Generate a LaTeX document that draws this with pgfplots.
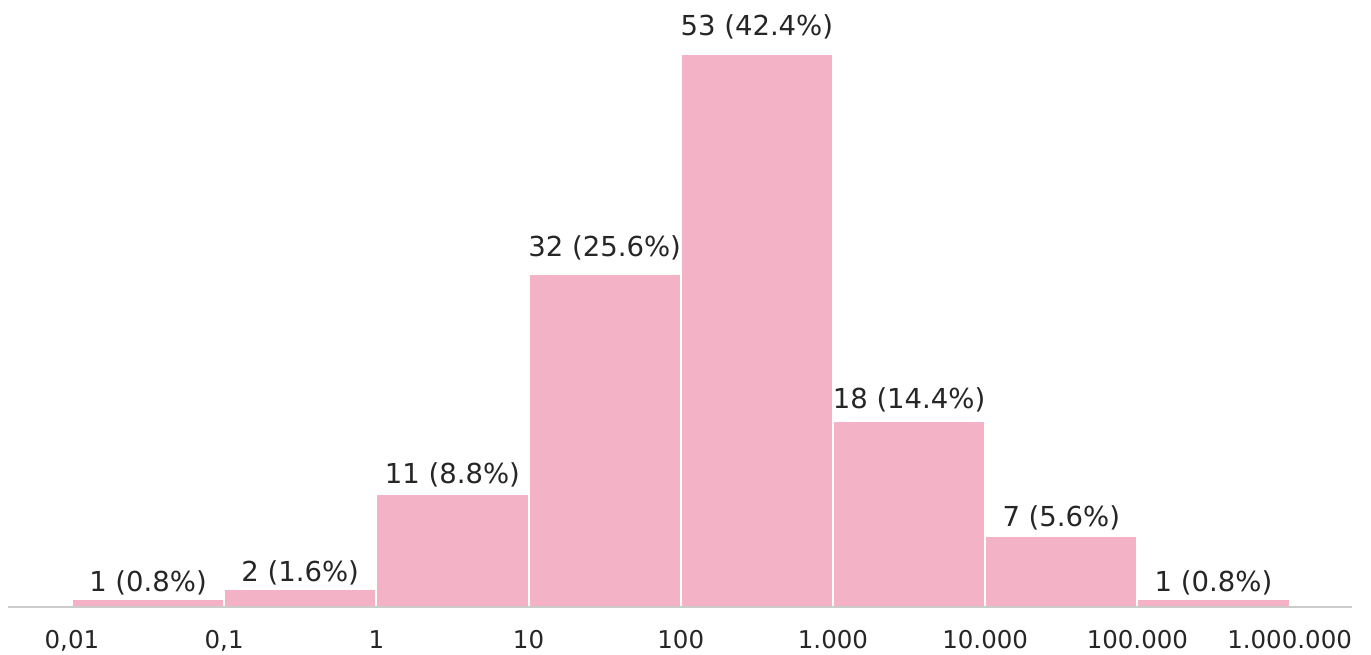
\documentclass[border=0pt]{standalone}
\usepackage{pgfplots}
\pgfplotsset{compat=1.18}
\usepackage{pgfplotstable}
\usetikzlibrary{calc}
\usepackage{fontspec}
\setmainfont{DejaVu Sans}
\definecolor{BarPink}{RGB}{244,178,199}
\definecolor{TextGray}{RGB}{38,38,38}
\definecolor{LineGray}{RGB}{204,204,204}

% bin centre in decades (log10), count, label base height
\pgfplotstableread[col sep=comma]{
x,n,ly,lab
-1.5,1,1.33,1 (0.8\%)
-0.5,2,2.28,2 (1.6\%)
0.5,11,11.63,11 (8.8\%)
1.5,32,33.29,32 (25.6\%)
2.5,53,54.38,53 (42.4\%)
3.5,18,18.79,18 (14.4\%)
4.5,7,7.53,7 (5.6\%)
5.5,1,1.36,1 (0.8\%)
}\bins

\begin{document}
\begin{tikzpicture}
\begin{axis}[
  scale only axis,
  width=672pt,
  height=297.6pt,
  xmin=-2.42, xmax=6.41,
  ymin=0.24, ymax=57.04,
  axis x line*=bottom,
  axis y line=none,
  x axis line style={draw=LineGray, line width=1pt},
  axis on top,
  xtick={-2,-1,...,6},
  xticklabels={{0,01},{0,1},1,10,100,{1.000},{10.000},{100.000},{1.000.000}},
  major tick length=0pt,
  xticklabel style={anchor=base, yshift=-20.5pt, font=\fontsize{12.25}{14}\selectfont, text=TextGray},
]
\addplot[ybar, bar width=1, bar shift=0pt, fill=BarPink, draw=white, line width=1pt]
  table[x=x, y=n] {\bins};
\addplot[draw=none, mark=none, nodes near coords, point meta=explicit symbolic,
  every node near coord/.append style={inner sep=0pt, font=\fontsize{13.75}{16}\selectfont, text=TextGray}]
  table[x=x, y=ly, meta=lab] {\bins};
\coordinate (O) at (rel axis cs:0,0);
\end{axis}
\pgfresetboundingbox
\useasboundingbox ($(O)+(-4pt,-23.5pt)$) rectangle ++(685.5pt,327pt);
\end{tikzpicture}
\end{document}
